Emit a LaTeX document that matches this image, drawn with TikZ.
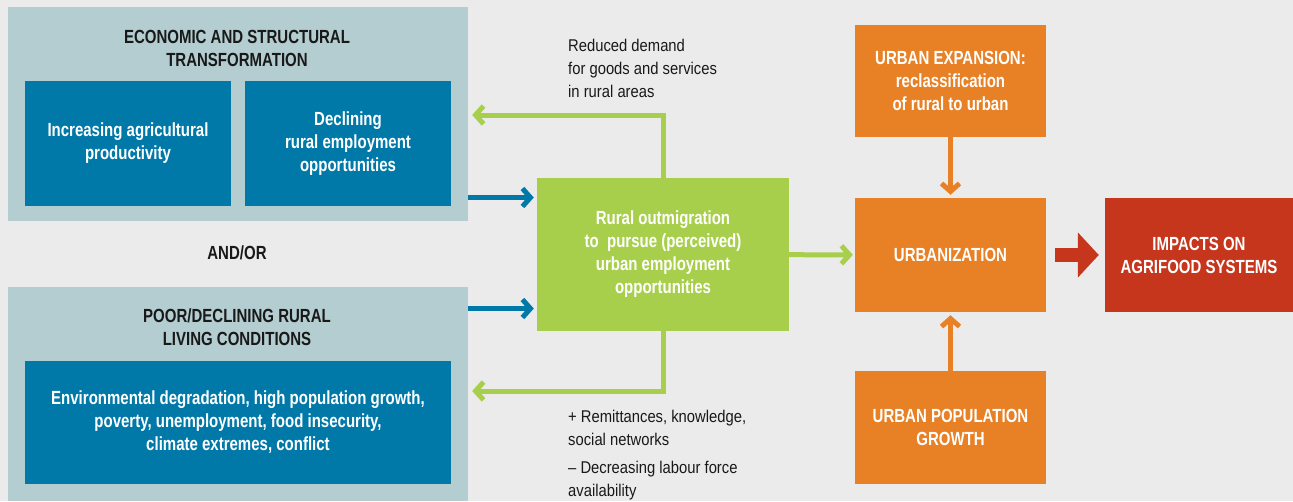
\documentclass[tikz,border=0pt]{standalone}
\usepackage{fontspec}
\setmainfont{Liberation Sans}[FakeStretch=0.79]
\newfontfamily\notefont{Liberation Sans}[FakeStretch=0.87, Ligatures=TeX]
\usetikzlibrary{arrows.meta, positioning}
\usepackage{xcolor}
\definecolor{bggrey}{HTML}{EBEBEB}
\definecolor{panel}{HTML}{B3CDD1}
\definecolor{deepblue}{HTML}{0079A8}
\definecolor{lime}{HTML}{A8CF4C}
\definecolor{urborange}{HTML}{E88125}
\definecolor{impred}{HTML}{C6361D}

\begin{document}
\begin{tikzpicture}[x=1pt,y=-1pt]
    \tikzstyle{box}=[inner sep=0pt, align=center, text=white, font=\fontsize{19}{23}\selectfont\bfseries]
    \tikzstyle{panel box}=[box, fill=panel]
    \tikzstyle{blue box}=[box, fill=deepblue]
    \tikzstyle{lime box}=[box, fill=lime]
    \tikzstyle{orange box}=[box, fill=urborange, minimum width=191pt]
    \tikzstyle{red box}=[box, fill=impred]
    \tikzstyle{head}=[align=center, text=black!90, font=\fontsize{19}{23}\selectfont\bfseries]
    \tikzstyle{note}=[align=left, text=black!90, inner sep=0pt, font=\notefont\fontsize{17}{23}\selectfont]
    \tikzstyle{flow}=[line width=5pt, -{Straight Barb[length=8pt,width=18pt]}]

    \fill[bggrey] (0,0) rectangle (1293,501);

    % left column
    \node[panel box, minimum width=460pt, minimum height=214pt] (econ) at (238,114) {};
    \node[head] (econ-t) at (237,48.5) {ECONOMIC AND STRUCTURAL\\TRANSFORMATION};
    \node[blue box, minimum width=206pt, minimum height=125pt] (agri) at (128,143.5) {Increasing agricultural\\productivity};
    \node[blue box, minimum width=206pt, minimum height=125pt] (decl) at (348,143.5) {Declining\\rural employment\\opportunities};

    \node[head] (andor) at (237,253) {AND/OR};

    \node[panel box, minimum width=460pt, minimum height=214pt] (poor) at (238,394) {};
    \node[head] (poor-t) at (237,327.5) {POOR/DECLINING RURAL\\LIVING CONDITIONS};
    \node[blue box, minimum width=426pt, minimum height=123pt] (cond) at (238,422.5) {Environmental degradation, high population growth,\\poverty, unemployment, food insecurity,\\climate extremes, conflict};

    % middle
    \node[lime box, minimum width=252pt, minimum height=153pt] (migr) at (663,254.5) {Rural outmigration\\to\ \ pursue (perceived)\\urban employment\\opportunities};
    \node[note, anchor=west] (demand) at (568,68) {Reduced demand\\for goods and services\\in rural areas};
    \node[note, anchor=west] (remit) at (568,455) {+ Remittances, knowledge,\\social networks\\[5pt]– Decreasing labour force\\availability};

    % right column
    \node[orange box, minimum height=112pt] (expa) at (950.5,81) {URBAN EXPANSION:\\reclassification\\of rural to urban};
    \node[orange box, minimum height=114pt] (urban) at (950.5,255) {URBANIZATION};
    \node[orange box, minimum height=113pt] (popg) at (950.5,427.5) {URBAN POPULATION\\GROWTH};
    \node[red box, minimum width=188pt, minimum height=114pt] (impact) at (1199,255) {IMPACTS ON\\AGRIFOOD SYSTEMS};

    \coordinate (lvl-a) at (0,197.5);
    \coordinate (lvl-b) at (0,308.5);
    \coordinate (lvl-up) at (0,115);
    \coordinate (lvl-dn) at (0,391);

    \draw[flow, deepblue, shorten >=3pt] (econ.east |- lvl-a) -- (migr.west |- lvl-a);
    \draw[flow, deepblue, shorten >=3pt] (poor.east |- lvl-b) -- (migr.west |- lvl-b);
    \draw[flow, lime, shorten >=4pt] (migr.north) |- (econ.east |- lvl-up);
    \draw[flow, lime, shorten >=4pt] (migr.south) |- (poor.east |- lvl-dn);
    \draw[flow, lime, shorten >=2pt] (migr) -- (urban);
    \draw[flow, urborange, shorten >=3pt] (expa) -- (urban);
    \draw[flow, urborange, shorten >=3pt] (popg) -- (urban);
    \draw[impred, line width=14pt, -{Triangle[length=21pt,width=44pt]}, shorten <=9pt, shorten >=6pt] (urban) -- (impact);
\end{tikzpicture}
\end{document}
